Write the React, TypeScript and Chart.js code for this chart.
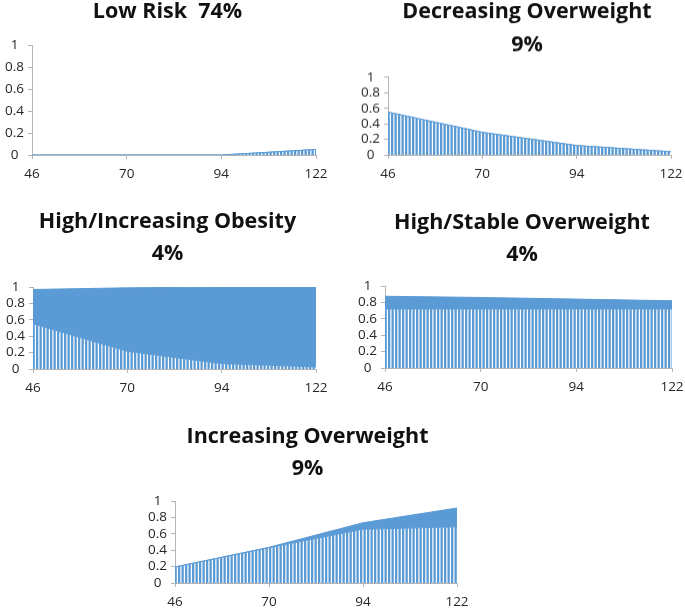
import React, { useEffect, useRef } from 'react';
import { Chart, registerables } from 'chart.js';

Chart.register(...registerables);

// ---- data ----
const ages = ['46', '70', '94', '122'];
const yTickValues = [0, 0.2, 0.4, 0.6, 0.8, 1];
const yTickLabels = ['0', '0.2', '0.4', '0.6', '0.8', '1'];

const lowRiskOverweight = [0, 0, 0, 0.05];
const lowRiskObese = [0, 0, 0, 0];
const decreasingOverweight = [0.55, 0.29, 0.12, 0.04];
const decreasingObese = [0, 0, 0, 0];
const highIncObesityOverweight = [0.55, 0.215, 0.065, 0.025];
const highIncObesityObese = [0.42, 0.775, 0.935, 0.975];
const highStableOverweight = [0.72, 0.72, 0.72, 0.72];
const highStableObese = [0.155, 0.14, 0.12, 0.1];
const increasingOverweight = [0.195, 0.43, 0.655, 0.685];
const increasingObese = [0, 0.005, 0.08, 0.23];

const BLUE = '#5B9BD5';
const AXIS = '#b4b4b4';
const TEXT = '#262626';
const FONT = "'Open Sans', 'Lato', sans-serif";

type Panel = {
  lines: string[];
  ow: number[];
  ob: number[];
  top: number;
  bottom: number;
  areaL: number;
  areaR: number;
  areaT: number;
  areaB: number;
  titleX: number;
  titleY1: number;
};

const panels: Panel[] = [
  { lines: ['Low Risk  74%'], ow: lowRiskOverweight, ob: lowRiskObese, top: 0, bottom: 190, areaL: 32, areaR: 316, areaT: 45, areaB: 155, titleX: 167.5, titleY1: 11.5 },
  { lines: ['Decreasing Overweight', '9%'], ow: decreasingOverweight, ob: decreasingObese, top: 0, bottom: 190, areaL: 388, areaR: 671, areaT: 77, areaB: 155, titleX: 527, titleY1: 12.5 },
  { lines: ['High/Increasing Obesity', '4%'], ow: highIncObesityOverweight, ob: highIncObesityObese, top: 195, bottom: 405, areaL: 33, areaR: 316, areaT: 287, areaB: 369, titleX: 167.5, titleY1: 221.5 },
  { lines: ['High/Stable Overweight', '4%'], ow: highStableOverweight, ob: highStableObese, top: 195, bottom: 405, areaL: 385, areaR: 672, areaT: 286, areaB: 368, titleX: 522, titleY1: 222.5 },
  { lines: ['Increasing Overweight', '9%'], ow: increasingOverweight, ob: increasingObese, top: 410, bottom: 608, areaL: 175, areaR: 457, areaT: 501, areaB: 583, titleX: 307.5, titleY1: 436.5 },
];

const TITLE_SIZE = 21.5;
const Y_AXIS_W = 32;
const RIGHT_PAD = 22;

function makePattern(ctx: CanvasRenderingContext2D) {
  const c = document.createElement('canvas');
  c.width = 7;
  c.height = 8;
  const p = c.getContext('2d')!;
  p.fillStyle = '#ffffff';
  p.fillRect(0, 0, 7, 8);
  p.fillStyle = BLUE;
  p.fillRect(0, 0, 2.3, 8);
  p.fillRect(3.5, 0, 2.3, 8);
  return ctx.createPattern(c, 'repeat');
}

function PanelChart({ panel }: { panel: Panel }) {
  const ref = useRef<HTMLCanvasElement | null>(null);

  const lineHeight = panel.lines.length > 1 ? 1.52 : 1.0;
  const lh = TITLE_SIZE * lineHeight;
  let top = panel.top;
  let titlePadTop = panel.titleY1 - top - lh / 2;
  if (titlePadTop < 0) {
    top += titlePadTop;
    titlePadTop = 0;
  }
  const height = panel.bottom - top;
  const titlePadBottom = panel.areaT - top - titlePadTop - panel.lines.length * lh;
  const left = panel.areaL - Y_AXIS_W;
  const width = panel.areaR + RIGHT_PAD - left;
  const xHeight = panel.bottom - panel.areaB;
  const titleCenter = panel.titleX - left;

  useEffect(() => {
    const canvas = ref.current!;
    const ctx = canvas.getContext('2d')!;
    const pattern = makePattern(ctx);
    const chart = new Chart(canvas, {
      type: 'line',
      data: {
        labels: ages,
        datasets: [
          {
            label: 'Overweight',
            data: panel.ow,
            fill: 'origin',
            backgroundColor: pattern as any,
            borderColor: BLUE,
            borderWidth: 1,
            pointRadius: 0,
            tension: 0,
          },
          {
            label: 'Obese',
            data: panel.ob,
            fill: '-1',
            backgroundColor: BLUE,
            borderColor: BLUE,
            borderWidth: 1,
            pointRadius: 0,
            tension: 0,
          },
        ],
      },
      options: {
        animation: false,
        responsive: false,
        maintainAspectRatio: false,
        events: [],
        layout: { padding: { left: 0, right: RIGHT_PAD, top: 0, bottom: 0 } },
        plugins: {
          legend: { display: false },
          tooltip: { enabled: false },
          title: {
            display: true,
            text: panel.lines,
            color: '#111111',
            font: { family: FONT, weight: 'bold', size: TITLE_SIZE, lineHeight },
            padding: { top: titlePadTop, bottom: titlePadBottom },
          },
        },
        scales: {
          x: {
            type: 'category',
            offset: false,
            grid: { display: true, drawOnChartArea: false, drawTicks: true, tickLength: 4, color: AXIS, offset: false },
            border: { display: true, color: AXIS, width: 1 },
            ticks: { color: TEXT, font: { family: FONT, size: 13.5 }, padding: 7, maxRotation: 0, autoSkip: false },
            afterFit: (s: any) => {
              s.height = xHeight;
              s.paddingLeft = 0;
              s.paddingRight = 0;
            },
          },
          y: {
            stacked: true,
            min: 0,
            max: 1,
            afterBuildTicks: (s: any) => {
              s.ticks = yTickValues.map((v) => ({ value: v }));
            },
            grid: { display: true, drawOnChartArea: false, drawTicks: true, tickLength: 4, color: AXIS },
            border: { display: true, color: AXIS, width: 1 },
            ticks: {
              color: TEXT,
              font: { family: FONT, size: 13.5 },
              padding: 4,
              autoSkip: false,
              crossAlign: 'center',
              callback: (v: any) => {
                const i = yTickValues.indexOf(Number(v));
                return i >= 0 ? yTickLabels[i] : '';
              },
            },
            afterFit: (s: any) => {
              s.width = Y_AXIS_W;
              s.paddingTop = 0;
              s.paddingBottom = 0;
            },
          },
        },
      },
      plugins: [
        {
          id: 'titleCenter',
          afterLayout(c: any) {
            const t = c.titleBlock;
            if (t) {
              t.left = titleCenter - 300;
              t.right = titleCenter + 300;
              t.width = 600;
            }
          },
        },
      ],
    });
    return () => chart.destroy();
  }, []);

  return (
    <canvas
      ref={ref}
      width={width}
      height={height}
      style={{ position: 'absolute', left, top, width, height }}
    />
  );
}

export default function App() {
  return (
    <div style={{ position: 'fixed', left: 0, top: 0, width: 685, height: 608, background: '#ffffff', overflow: 'hidden' }}>
      {panels.map((p, i) => (
        <PanelChart key={i} panel={p} />
      ))}
    </div>
  );
}
